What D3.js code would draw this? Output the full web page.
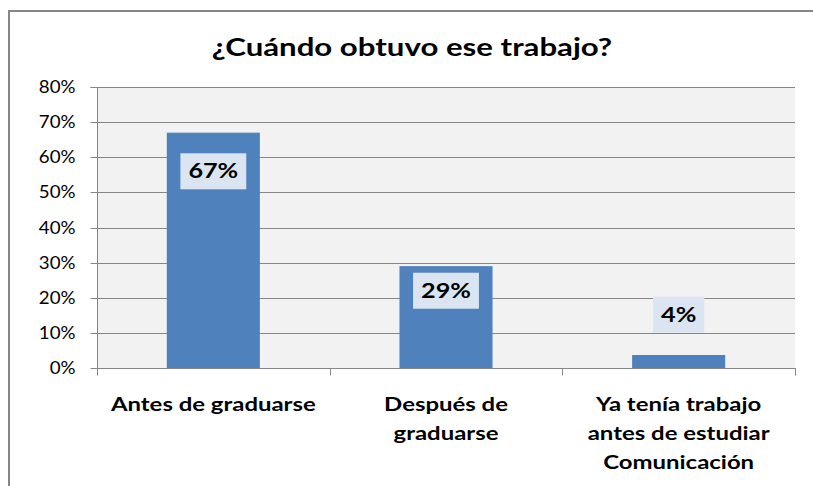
<!DOCTYPE html>
<html><head><meta charset="utf-8">
<script src="https://cdn.jsdelivr.net/npm/d3@7"></script>
<style>body{margin:0;background:#fff}svg{display:block}</style>
</head><body>
<script>
const title = "¿Cuándo obtuvo ese trabajo?";
const categories = [["Antes de graduarse"], ["Después de", "graduarse"], ["Ya tenía trabajo", "antes de estudiar", "Comunicación"]];
const values = [67, 29, 3.7];
const valueLabels = ["67%", "29%", "4%"];
const yTicks = [0, 10, 20, 30, 40, 50, 60, 70, 80];

const W = 813, H = 486;
const m = {left: 97, right: 795, top: 87, bottom: 368};
const labelAnchor = [56, 22, 15.2]; // label centre in value units (layout)
const FONT = "Lato, sans-serif";

const svg = d3.select("body").append("svg").attr("width", W).attr("height", H);
svg.append("rect").attr("x", 9).attr("y", 11).attr("width", 900).attr("height", 600)
  .attr("fill", "#fff").attr("stroke", "#868686").attr("stroke-width", 2);

const x = d3.scaleBand().domain(d3.range(categories.length)).range([m.left, m.right]).padding(0);
const y = d3.scaleLinear().domain([0, 80]).range([m.bottom, m.top]);

svg.append("rect").attr("x", m.left).attr("y", m.top).attr("width", m.right - m.left)
  .attr("height", m.bottom - m.top).attr("fill", "#f2f2f2");

svg.append("g").selectAll("line").data(yTicks.filter(d => d > 0)).join("line")
  .attr("x1", m.left).attr("x2", m.right).attr("y1", d => Math.round(y(d)) + 0.5).attr("y2", d => Math.round(y(d)) + 0.5)
  .attr("stroke", "#868686").attr("stroke-width", 1);

const bw = x.bandwidth() * 0.4;
svg.append("g").selectAll("rect").data(values).join("rect")
  .attr("x", (d, i) => x(i) + (x.bandwidth() - bw) / 2)
  .attr("y", d => y(d)).attr("width", bw).attr("height", d => y(0) - y(d))
  .attr("fill", "#4f81bd");

// y axis
const ya = svg.append("g").attr("transform", `translate(${m.left + 0.5},0)`)
  .call(d3.axisLeft(y).tickValues(yTicks).tickFormat(d => d + "%").tickSize(7).tickPadding(15));
ya.select(".domain").attr("stroke", "#868686").attr("d", `M-7,${m.top + 0.5}H0V${m.bottom}`);
ya.selectAll(".tick line").attr("stroke", "#868686");
ya.selectAll(".tick").attr("transform", d => `translate(0,${Math.round(y(d)) + 0.5})`);
ya.selectAll("text").attr("font-family", FONT).attr("font-size", 17).attr("fill", "#000")
  .attr("x", 0).attr("transform", "translate(-22,0) scale(1.1,1)");

// helper: horizontally stretched text
function stext(parent, cx, cy, str, size, sx) {
  return parent.append("text").attr("transform", `translate(${cx},${cy}) scale(${sx},1)`)
    .attr("text-anchor", "middle").attr("font-family", FONT).attr("font-weight", "bold")
    .attr("font-size", size).attr("fill", "#000").text(str);
}

// x axis
const xa = svg.append("g").attr("transform", `translate(0,${m.bottom + 0.5})`);
xa.append("line").attr("x1", m.left).attr("x2", m.right + 1).attr("stroke", "#868686");
xa.selectAll("line.t").data(d3.range(categories.length + 1)).join("line").attr("class", "t")
  .attr("x1", i => i < categories.length ? Math.round(x(i)) + 0.5 : m.right + 0.5)
  .attr("x2", i => i < categories.length ? Math.round(x(i)) + 0.5 : m.right + 0.5)
  .attr("y1", 0).attr("y2", 7).attr("stroke", "#868686");
categories.forEach((lines, i) => {
  lines.forEach((ln, j) => stext(svg, x(i) + x.bandwidth() / 2, 411 + j * 29, ln, 18, 1.33));
});

// value labels
values.forEach((v, i) => {
  const cx = x(i) + x.bandwidth() / 2, cy = y(labelAnchor[i]);
  const g = svg.append("g");
  const t = stext(g, cx, cy + 7, valueLabels[i], 20, 1.26);
  const w = t.node().getBBox().width * 1.26;
  g.insert("rect", "text").attr("x", cx - w / 2 - 8).attr("y", cy - 18).attr("width", w + 16).attr("height", 36)
    .attr("fill", "#dbe5f1");
});

stext(svg, 412, 56, title, 24, 1.3);
</script>
</body></html>
